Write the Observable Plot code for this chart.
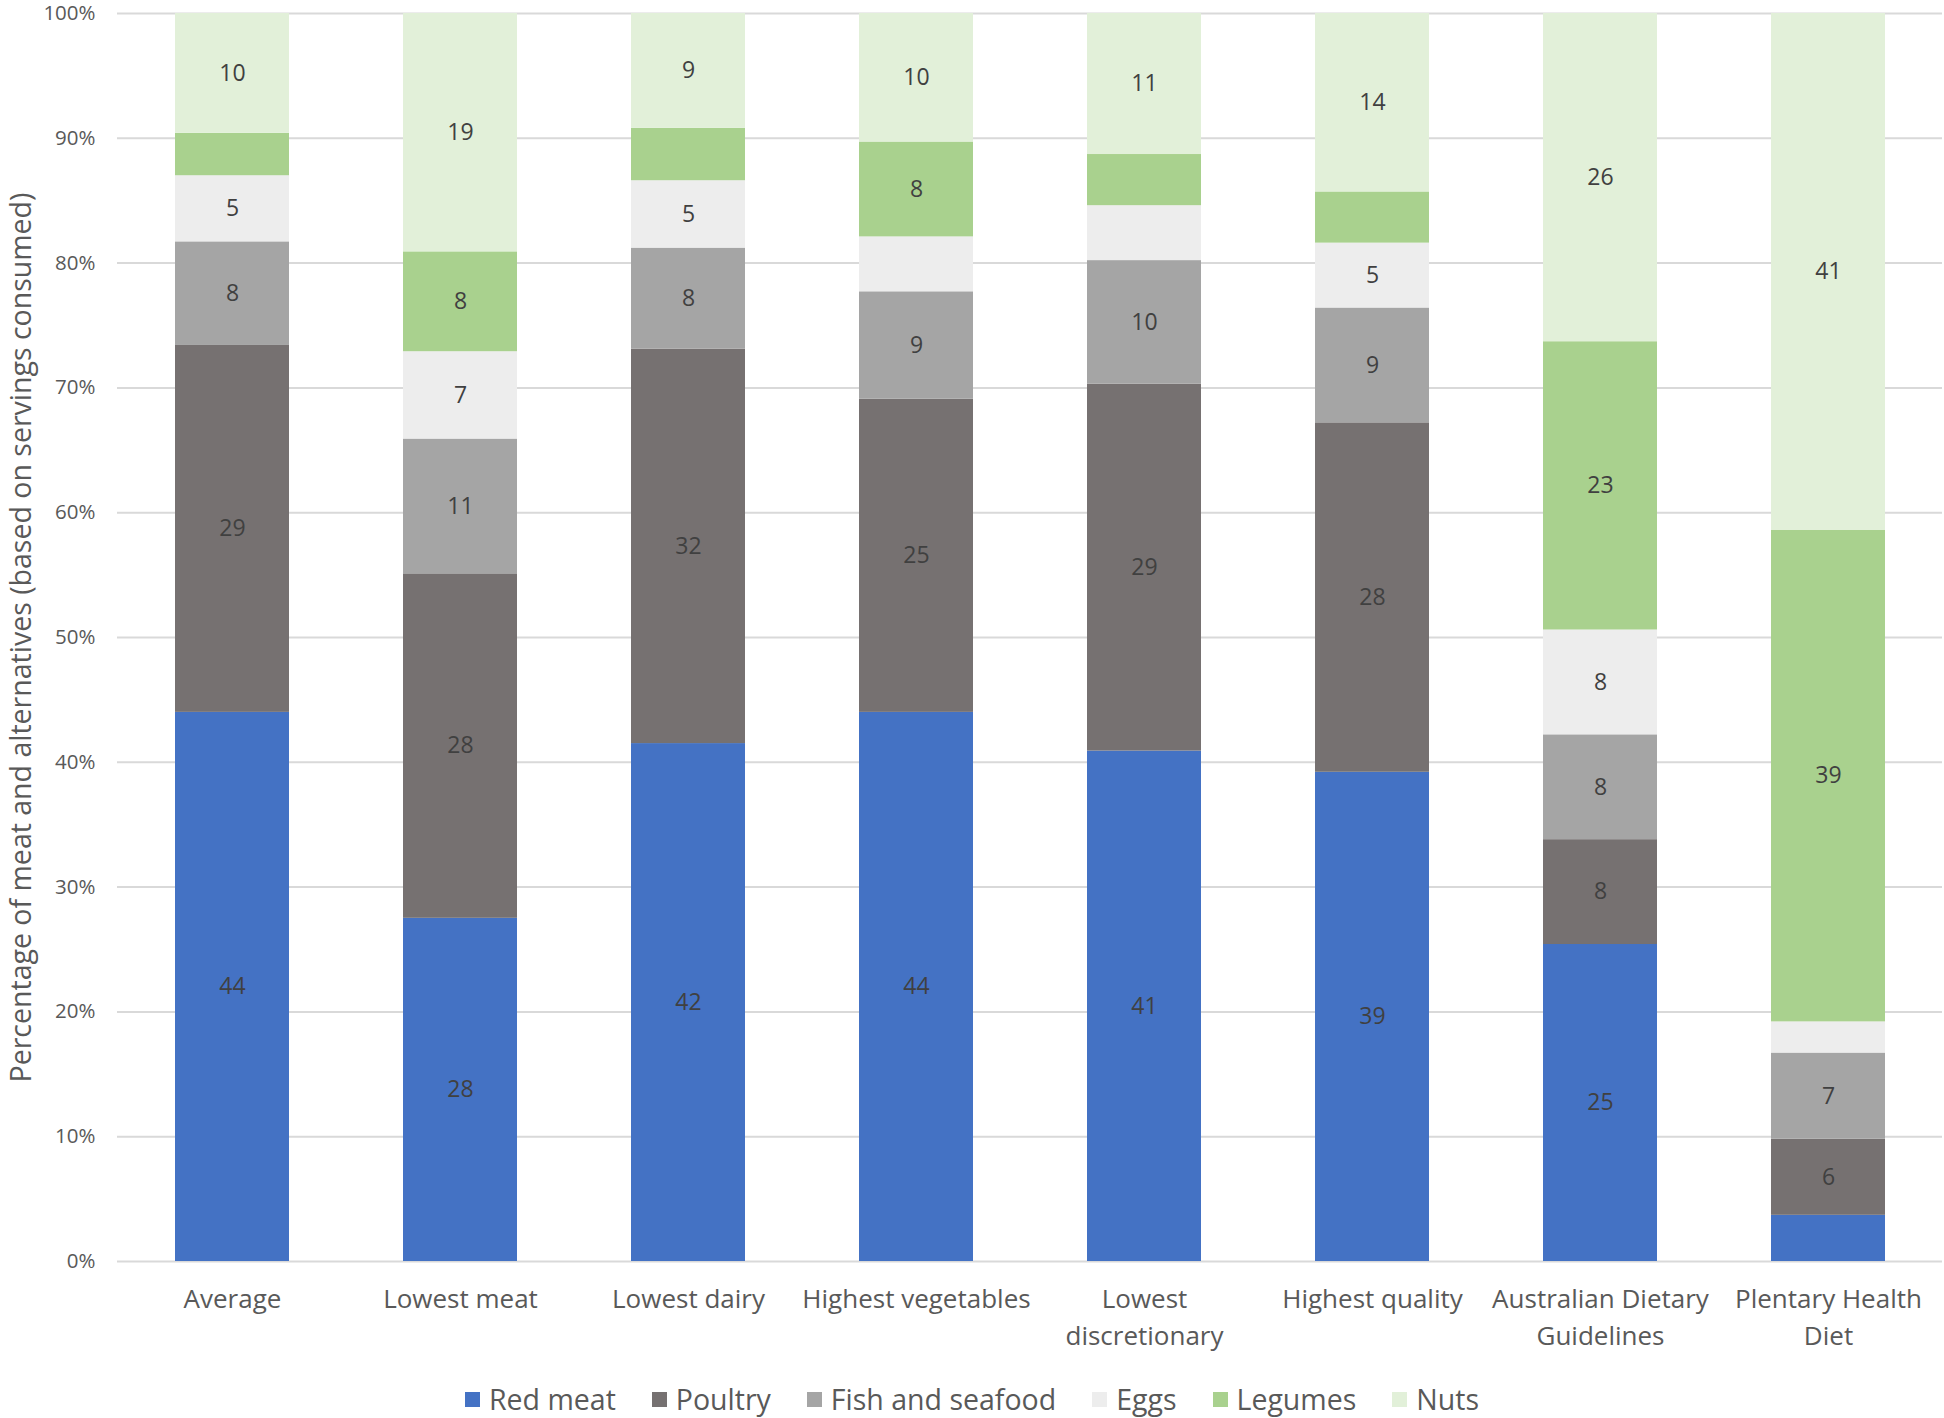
<!DOCTYPE html>
<html>
<head>
<meta charset="utf-8">
<script src="https://cdn.jsdelivr.net/npm/d3@7"></script>
<script src="https://cdn.jsdelivr.net/npm/@observablehq/plot@0.6"></script>
<style>
  html, body { margin: 0; padding: 0; background: #fff; }
  body { width: 1944px; height: 1418px; overflow: hidden; font-family: "Open Sans", sans-serif; }
  #chart svg { display: block; }
  #chart [aria-label="y-axis label"] text { font-size: 28.5px; }
  .legend { display: flex; justify-content: center; align-items: center; margin-top: 8px; height: 38px; font-size: 28.5px; color: #595959; }
  .legend .item { display: flex; align-items: center; margin: 0 18px; }
  .legend .sw { width: 15px; height: 15px; margin-right: 9px; }
</style>
</head>
<body>
<div id="chart"></div>
<script>
const categories = ["Average", "Lowest meat", "Lowest dairy", "Highest vegetables", "Lowest discretionary", "Highest quality", "Australian Dietary Guidelines", "Plentary Health Diet"];
const tickLabels = ["Average", "Lowest meat", "Lowest dairy", "Highest vegetables", "Lowest\ndiscretionary", "Highest quality", "Australian Dietary\nGuidelines", "Plentary Health\nDiet"];
const foods = ["Red meat", "Poultry", "Fish and seafood", "Eggs", "Legumes", "Nuts"];
const colors = ["#4472C4", "#767171", "#A5A5A5", "#EDEDED", "#A9D18E", "#E2F0D9"];

const redMeat = [44.0, 27.5, 41.5, 44.0, 40.9, 39.2, 25.4, 3.7];
const poultry = [29.4, 27.6, 31.6, 25.1, 29.4, 28.0, 8.4, 6.1];
const fishSeafood = [8.3, 10.8, 8.1, 8.6, 9.9, 9.2, 8.4, 6.9];
const eggs = [5.3, 7.0, 5.4, 4.4, 4.4, 5.2, 8.4, 2.5];
const legumes = [3.4, 8.0, 4.2, 7.6, 4.1, 4.1, 23.1, 39.4];
const nuts = [9.6, 19.1, 9.2, 10.3, 11.3, 14.3, 26.3, 41.4];

const yTicks = [0, 10, 20, 30, 40, 50, 60, 70, 80, 90, 100];

const series = [redMeat, poultry, fishSeafood, eggs, legumes, nuts];
const data = [];
categories.forEach((c, i) => {
  foods.forEach((f, j) => {
    data.push({category: c, food: f, value: series[j][i]});
  });
});
const labelFor = new Map(categories.map((c, i) => [c, tickLabels[i]]));

const chart = Plot.plot({
  width: 1944,
  height: 1372,
  marginLeft: 117,
  marginRight: 2,
  marginTop: 13,
  marginBottom: 111,
  style: {fontFamily: "Open Sans, sans-serif", color: "#595959", background: "#fff"},
  x: {domain: categories, paddingInner: 0.5, paddingOuter: 0.25, label: null},
  y: {domain: [0, 100], label: null},
  color: {domain: foods, range: colors},
  marks: [
    Plot.gridY(yTicks, {stroke: "#D9D9D9", strokeOpacity: 1, strokeWidth: 2}),
    Plot.barY(data, Plot.stackY({x: "category", y: "value", fill: "food", order: null})),
    Plot.text(data, Plot.stackY({
      x: "category", y: "value", order: null,
      text: d => d.value >= 4.7 ? String(Math.round(d.value)) : "",
      fill: "#404040", fontSize: 23
    })),
    Plot.axisY({
      ticks: yTicks, tickSize: 0, tickPadding: 22, fontSize: 20.5,
      tickFormat: d => d + "%",
      label: "Percentage of meat and alternatives (based on servings consumed)",
      labelAnchor: "center", labelArrow: "none", labelOffset: 107
    }),
    Plot.axisX({
      tickSize: 0, tickPadding: 20, fontSize: 26, lineHeight: 1.42,
      tickFormat: d => labelFor.get(d), label: null
    })
  ]
});
document.getElementById("chart").appendChild(chart);

const legend = document.createElement("div");
legend.className = "legend";
foods.forEach((f, j) => {
  const item = document.createElement("div");
  item.className = "item";
  const sw = document.createElement("span");
  sw.className = "sw";
  sw.style.background = colors[j];
  const t = document.createElement("span");
  t.textContent = f;
  item.appendChild(sw);
  item.appendChild(t);
  legend.appendChild(item);
});
document.body.appendChild(legend);
</script>
</body>
</html>
